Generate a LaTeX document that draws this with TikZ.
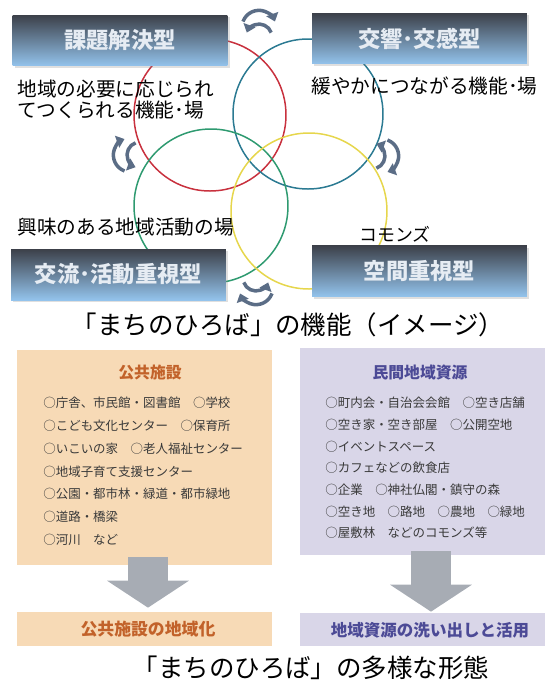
\documentclass[tikz,border=0pt]{standalone}
\usepackage{fontspec}
\setmainfont{Noto Sans CJK JP}
\usetikzlibrary{arrows.meta,shadows}

\definecolor{boxtop}{HTML}{3C4049}
\definecolor{boxmid}{HTML}{5E7B9C}
\definecolor{boxbot}{HTML}{93C3EC}
\definecolor{boxtext}{HTML}{E6ECF3}
\definecolor{ringred}{HTML}{C8313E}
\definecolor{ringteal}{HTML}{2B7A92}
\definecolor{ringgreen}{HTML}{2E9A70}
\definecolor{ringyellow}{HTML}{E6D64C}
\definecolor{cycgray}{HTML}{5B6D86}
\definecolor{pubfill}{HTML}{F7DAB6}
\definecolor{pubtext}{HTML}{C2622A}
\definecolor{resfill}{HTML}{D9D6E8}
\definecolor{restext}{HTML}{4C4A96}
\definecolor{itemgray}{HTML}{3A3A3A}
\definecolor{arrowgray}{HTML}{A7ACB4}

\begin{document}
\begin{tikzpicture}[
		x=0.02cm, y=-0.02cm,
		typebox/.style = {
			shape=rectangle, minimum width=4.3cm, minimum height=1.02cm,
			top color=boxtop, middle color=boxmid, bottom color=boxbot,
			text=boxtext, font=\bfseries\fontsize{12.7}{14}\selectfont,
			drop shadow={shadow xshift=1.2pt, shadow yshift=-1.2pt, opacity=0.25}},
		note/.style = {anchor=west, inner sep=0pt, align=left,
			font=\fontsize{11.2}{13}\selectfont},
		ring/.style = {line width=0.85pt},
		cyc/.style = {line width=2pt, draw=cycgray,
			-{Triangle[length=4.5pt, width=7pt]}},
		caption/.style = {inner sep=0pt, font=\fontsize{14.5}{16}\selectfont},
		pubpanel/.style = {shape=rectangle, fill=pubfill, inner sep=0pt},
		respanel/.style = {shape=rectangle, fill=resfill, inner sep=0pt},
		itemtext/.style = {anchor=west, inner sep=0pt, text=itemgray,
			font=\fontsize{7.1}{8}\selectfont},
		blockarrow/.style = {draw=arrowgray, line width=0.8cm,
			-{Triangle[width=1.64cm, length=0.54cm, line width=0pt 0 0]}}]

	\useasboundingbox (0,0) rectangle (547,687);

	\draw[ring, ringred] (210,115) circle[radius=76];
	\draw[ring, ringteal] (308,114) circle[radius=75];
	\draw[ring, ringgreen] (211,206) circle[radius=77];
	\draw[ring, ringyellow] (309,211) circle[radius=78];

	\node[typebox] (kadai) at (120,40.5) {課題解決型};
	\node[typebox] (kokyo) at (419.5,38.5) {交響･交感型};
	\node[typebox] (koryu) at (118.5,274.5) {交流･活動重視型};
	\node[typebox] (kukan) at (419.5,271) {空間重視型};

	\node[note] (kadainote) at (17,99.5)
		{地域の必要に応じられ\\[-0.6pt]てつくられる機能･場};
	\node[note] (kokyonote) at (311,86) {緩やかにつながる機能･場};
	\node[note] (koryunote) at (17,227) {興味のある地域活動の場};
	\node[note, font=\fontsize{10.2}{12}\selectfont] (kukannote) at (359,234) {コモンズ};

	\foreach \cx/\cy/\rot in {259/21/0, 124/155/90, 388/156/-90, 256/294/180} {
		\begin{scope}[shift={(\cx,\cy)}, rotate=\rot]
			\draw[cyc] (-15.98,0.53) arc[start angle=200, end angle=340, radius=17];
			\draw[cyc] (12.22,11.6) arc[start angle=340, end angle=200, radius=13];
		\end{scope}
	}

	\node[caption] (cap1) at (288,325) {「まちのひろば」の機能（イメージ）};

	\node[pubpanel, minimum width=5.1cm, minimum height=4.3cm] (pubbox) at (144.5,457.5) {};
	\node[respanel, minimum width=4.9cm, minimum height=4.14cm] (resbox) at (422.5,451.5) {};
	\node[pubpanel, minimum width=5.1cm, minimum height=0.68cm] (pubout) at (144.5,629) {};
	\node[respanel, minimum width=4.9cm, minimum height=0.66cm] (resout) at (422.5,629.5) {};

	\node[text=pubtext, font=\bfseries\fontsize{9}{10}\selectfont] (pubhead) at (150,373) {公共施設};
	\node[text=restext, font=\bfseries\fontsize{9}{10}\selectfont] (reshead) at (420,373) {民間地域資源};

	\foreach \txt [count=\i] in {○庁舎、市民館・図書館　○学校, ○こども文化センター　○保育所,
			○いこいの家　○老人福祉センター, ○地域子育て支援センター,
			○公園・都市林・緑道・都市緑地, ○道路・橋梁, ○河川　など}
		\node[itemtext] (pub\i) at (43,{403+(\i-1)*22.8}) {\txt};

	\foreach \txt [count=\i] in {○町内会・自治会会館　○空き店舗, ○空き家・空き部屋　○公開空地,
			○イベントスペース, ○カフェなどの飲食店, ○企業　○神社仏閣・鎮守の森,
			○空き地　○路地　○農地　○緑地, ○屋敷林　などのコモンズ等}
		\node[itemtext] (res\i) at (325,{403+(\i-1)*21.7}) {\txt};

	\draw[blockarrow] ([shift={(3.5,-8)}]pubbox.south) -- ([shift={(3.5,-4)}]pubout.north);
	\draw[blockarrow] ([shift={(8.5,-4)}]resbox.south) -- ([shift={(8.5,-1)}]resout.north);

	\node[text=pubtext, font=\bfseries\fontsize{9.6}{11}\selectfont] (pubouttext) at (148,629) {公共施設の地域化};
	\node[text=restext, font=\bfseries\fontsize{9.4}{11}\selectfont] (resouttext) at (430,630) {地域資源の洗い出しと活用};

	\node[caption] (cap2) at (311,668) {「まちのひろば」の多様な形態};
\end{tikzpicture}
\end{document}
